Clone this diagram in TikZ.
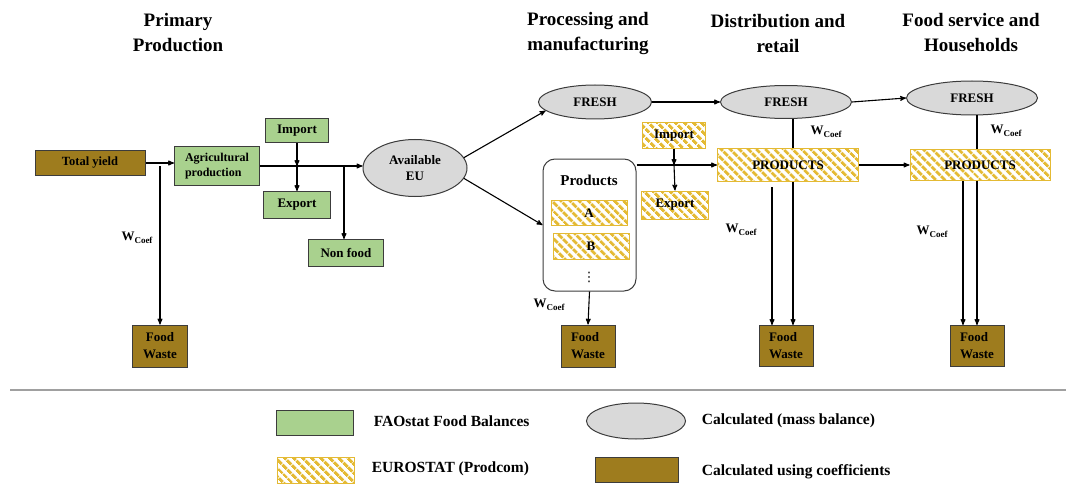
\documentclass[tikz,border=0pt]{standalone}
\usepackage{fontspec}
\setmainfont{Liberation Serif}
\newfontfamily\dotsfont{DejaVu Sans}
\usepackage{tikz}
\usetikzlibrary{arrows.meta,arrows}
\usetikzlibrary{positioning}
\usetikzlibrary{shapes.geometric, patterns.meta}

\definecolor{faogreen}{RGB}{169,209,142}
\definecolor{coefbrown}{RGB}{158,124,30}
\definecolor{massgray}{RGB}{217,217,217}
\definecolor{hatchgold}{RGB}{228,186,52}
\definecolor{edgegray}{RGB}{60,60,60}
\definecolor{sepgray}{RGB}{160,160,160}

\newcommand{\wcoef}{W\raisebox{-0.45ex}{\fontsize{9}{9}\selectfont Coef}}

\begin{document}
\begin{tikzpicture}[>=stealth',x=1pt,y=-1pt,line width=1.1pt,auto]
 \tikzstyle{fao node}=[rectangle,draw=edgegray,fill=faogreen,line width=1pt,inner sep=0,font=\bfseries\fontsize{13}{15}\selectfont]
 \tikzstyle{euro node}=[rectangle,draw=hatchgold,line width=1pt,inner sep=0,pattern={Lines[angle=-45,distance=6.5pt,line width=3.3pt]},pattern color=hatchgold,font=\bfseries\fontsize{13}{15}\selectfont]
 \tikzstyle{mass node}=[ellipse,draw=edgegray,fill=massgray,line width=1pt,inner sep=0,font=\bfseries\fontsize{13}{16}\selectfont,align=center]
 \tikzstyle{coef node}=[rectangle,draw=edgegray,fill=coefbrown,line width=1pt,inner sep=0,font=\bfseries\fontsize{13}{17}\selectfont,align=left]
 \tikzset{
 	head node/.style={align=center,font=\bfseries\fontsize{19}{25}\selectfont},
 	leg node/.style={anchor=west,font=\bfseries\fontsize{15.5}{18}\selectfont},
 	w node/.style={font=\bfseries\fontsize{13}{15}\selectfont},
 	group node/.style={rectangle,draw=edgegray,rounded corners=12pt,line width=1pt,inner sep=0}
 }
 \useasboundingbox (0,0) rectangle (1076,484);

       % stage headers
       \node[head node] (h1) at (178,33) {Primary\\Production};
       \node[head node] (h2) at (588,34) {Processing and\\manufacturing};
       \node[head node] (h3) at (778,34) {Distribution and\\retail};
       \node[head node] (h4) at (971,33) {Food service and\\Households};

       % primary production
       \node[coef node,minimum width=110,minimum height=24,font=\bfseries\fontsize{12.5}{15}\selectfont] (ty) at (90,163) {Total yield};
       \node[fao node,minimum width=85,minimum height=39,align=left,font=\bfseries\fontsize{12}{14.5}\selectfont] (agri) at (217,166) {Agricultural\\production};
       \node[fao node,minimum width=63,minimum height=24] (imp1) at (297,131) {Import};
       \node[fao node,minimum width=67,minimum height=27] (exp1) at (297,205) {Export};
       \node[fao node,minimum width=75,minimum height=27] (nonfood) at (346,253) {Non food};
       \node[mass node,minimum width=104,minimum height=57] (eu) at (415,168) {Available\\EU};
       \node[coef node,minimum width=55,minimum height=42,align=center] (fw0) at (160,346) {Food\\Waste};

       % processing and manufacturing
       \node[mass node,minimum width=113,minimum height=34] (fresh1) at (595,102) {FRESH};
       \node[group node,minimum width=93,minimum height=132] (prodbox) at (589.5,225) {};
       \node[font=\bfseries\fontsize{15}{17}\selectfont] (prodlbl) at (589,180) {Products};
       \node[euro node,minimum width=76,minimum height=25] (pa) at (589,213) {A};
       \node[euro node,minimum width=76,minimum height=26] (pb) at (591,246) {B};
       \node[font=\dotsfont\fontsize{13}{15}\selectfont] (pdots) at (589,277) {⋮};
       \node[coef node,minimum width=54,minimum height=42] (fw1) at (588,346) {Food\\Waste};
       \node[euro node,minimum width=63,minimum height=26] (imp2) at (674,136) {Import};
       \node[euro node,minimum width=67,minimum height=28] (exp2) at (675,205) {Export};

       % distribution and retail
       \node[mass node,minimum width=131,minimum height=33] (fresh2) at (786,102) {FRESH};
       \node[euro node,minimum width=141,minimum height=32] (P1) at (788,165) {PRODUCTS};
       \node[coef node,minimum width=54,minimum height=41] (fw2) at (786,346) {Food\\Waste};

       % food service and households
       \node[mass node,minimum width=131,minimum height=34] (fresh3) at (972,98) {FRESH};
       \node[euro node,minimum width=140,minimum height=31] (P2) at (980,165) {PRODUCTS};
       \node[coef node,minimum width=54,minimum height=41] (fw3) at (977,346) {Food\\Waste};

       % coefficient labels
       \node[w node] (w0) at (137,238) {\wcoef};
       \node[w node] (w1) at (549,305) {\wcoef};
       \node[w node] (w2) at (826,132) {\wcoef};
       \node[w node] (w3) at (741,230) {\wcoef};
       \node[w node] (w4) at (1006,131) {\wcoef};
       \node[w node] (w5) at (932,232) {\wcoef};

       \coordinate (s0) at (160,166);
       \coordinate (s1) at (297,166);
       \coordinate (s2) at (344,166);
       \coordinate (v2) at (793,0);
       \coordinate (v2b) at (772,187);
       \coordinate (v3) at (977,0);
       \coordinate (v3b) at (963,0);

     \path[->]  (ty.east) edge (ty.east -| agri.west);
     \path[->]  (s0) edge (s0 |- fw0.north);
     \path[->]  (agri.east) edge (agri.east -| eu.west);
     \path[->]  (imp1.south) edge (imp1.south |- s1);
     \path[->]  (s1) edge (exp1.north);
     \path[->]  (s2) edge (s2 |- nonfood.north);

     \path[->]  (eu.12) edge (fresh1.190);
     \path[->]  (eu.-12) edge (prodbox.west);
     \path[->]  (prodbox.south) edge (fw1.north);
     \path[->]  (P1.west -| prodbox.east) edge (P1.west);
     \path[->]  (imp2.south) edge (imp2.south |- P1.west);
     \path[->]  (imp2.south |- P1.west) edge (exp2.north);

     \path[->]  (fresh1.east) edge (fresh2.west);
     \path[->]  (fresh2.east) edge (fresh3.west);
     \path[->]  (P1.east) edge (P2.west);

     \draw (fresh2.south -| v2) -- (P1.north -| v2);
     \path[->]  (P1.south -| v2) edge (fw2.north -| v2);
     \path[->]  (v2b) edge (v2b |- fw2.north);
     \draw (fresh3.south -| v3) -- (P2.north -| v3);
     \path[->]  (P2.south -| v3) edge (fw3.north -| v3);
     \path[->]  (P2.south -| v3b) edge (fw3.north -| v3b);

     % legend
     \draw[sepgray,line width=1.6pt] (10,390) -- (1066,390);
     \node[fao node,minimum width=77,minimum height=25] (lg1) at (315,423) {};
     \node[leg node] (lt1) at (370,421) {FAOstat Food Balances};
     \node[euro node,minimum width=77,minimum height=26] (lg2) at (316,470) {};
     \node[leg node] (lt2) at (368,469) {EUROSTAT (Prodcom)};
     \node[mass node,minimum width=99,minimum height=36] (lg3) at (636,421) {};
     \node[leg node] (lt3) at (698,421) {Calculated (mass balance)};
     \node[coef node,minimum width=83,minimum height=25] (lg4) at (637,470) {};
     \node[leg node] (lt4) at (698,472) {Calculated using coefficients};
 \end{tikzpicture}
\end{document}
